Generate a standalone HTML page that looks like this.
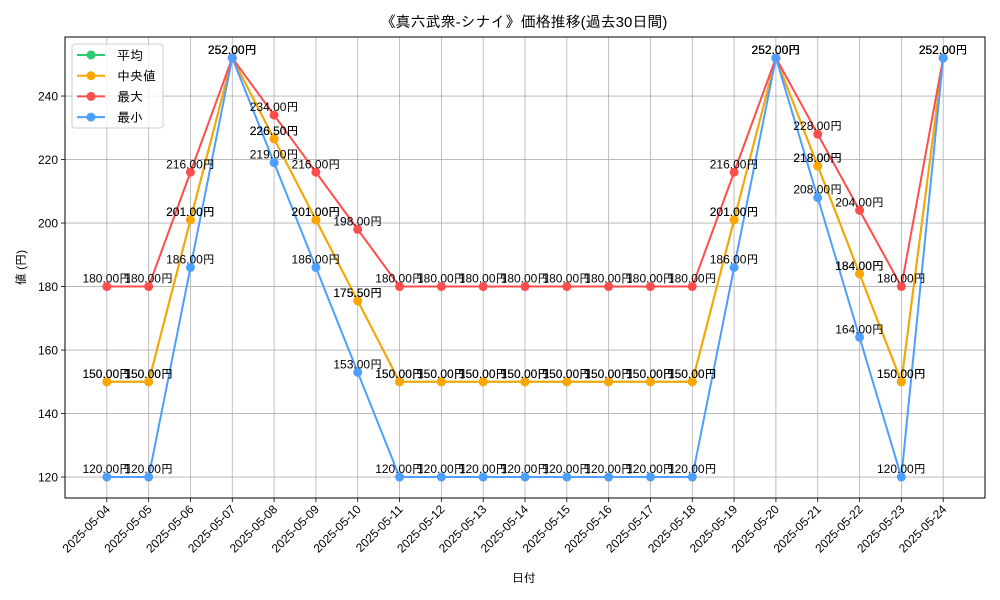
<!DOCTYPE html>
<html><head><meta charset="utf-8"><style>
body{margin:0;background:#fff;}
svg{display:block;font-family:"Liberation Sans","IPAGothic","Noto Sans CJK JP",sans-serif;}
</style></head><body>
<svg id="chart" width="1000" height="600"></svg>
<script>
const dates=["2025-05-04","2025-05-05","2025-05-06","2025-05-07","2025-05-08","2025-05-09","2025-05-10","2025-05-11","2025-05-12","2025-05-13","2025-05-14","2025-05-15","2025-05-16","2025-05-17","2025-05-18","2025-05-19","2025-05-20","2025-05-21","2025-05-22","2025-05-23","2025-05-24"];
const avgVals=[150,150,201,252,226.5,201,175.5,150,150,150,150,150,150,150,150,201,252,218,184,150,252];
const medVals=[150,150,201,252,226.5,201,175.5,150,150,150,150,150,150,150,150,201,252,218,184,150,252];
const maxVals=[180,180,216,252,234,216,198,180,180,180,180,180,180,180,180,216,252,228,204,180,252];
const minVals=[120,120,186,252,219,186,153,120,120,120,120,120,120,120,120,186,252,208,164,120,252];
const yTicks=[120,140,160,180,200,220,240];
const seriesNames=["平均","中央値","最大","最小"];

const svg=document.getElementById('chart');
const NS="http://www.w3.org/2000/svg";
const L=65,R=985,T=37,B=498;
const yMin=113.4,yMax=258.6;
function x(i){const n=dates.length-1;const pad=n*0.05;return L+(i+pad)/(n+2*pad)*(R-L);}
function y(v){return B-(v-yMin)/(yMax-yMin)*(B-T);}
function mk(tag,attrs,parent){const e=document.createElementNS(NS,tag);for(const k in attrs)e.setAttribute(k,attrs[k]);(parent||svg).appendChild(e);return e;}

let t=mk('text',{x:524,y:27,'text-anchor':'middle','font-size':15});
t.textContent="《真六武衆-シナイ》価格推移(過去30日間)";



// grid
dates.forEach((d,i)=>{
 const g=mk('line',{x1:x(i),x2:x(i),y1:T,y2:B,stroke:'#b0b0b0','stroke-width':0.8});
 
 
 mk('line',{x1:x(i),x2:x(i),y1:B,y2:B+4,stroke:'#000','stroke-width':0.8});
 const lb=mk('text',{'font-size':12,'text-anchor':'end',transform:`translate(${x(i)+4},${B+12}) rotate(-45)`});
 lb.textContent=d;
 
 
});
yTicks.forEach(v=>{
 const g=mk('line',{x1:L,x2:R,y1:y(v),y2:y(v),stroke:'#b0b0b0','stroke-width':0.8});
 
 
 mk('line',{x1:L-4,x2:L,y1:y(v),y2:y(v),stroke:'#000','stroke-width':0.8});
 const lb=mk('text',{x:L-7,y:y(v)+4.5,'font-size':12,'text-anchor':'end'});
 lb.textContent=v;
 
 
});

const series=[[avgVals,'#2ecc71'],[medVals,'#ffa500'],[maxVals,'#ff4d4d'],[minVals,'#4d9fff']];
const names=['series-average','series-median','series-max','series-min'];
series.forEach(([vals,c],si)=>{
 const g=mk('g',{});
 
 
 mk('polyline',{points:vals.map((v,i)=>x(i)+','+y(v)).join(' '),fill:'none',stroke:c,'stroke-width':2},g);
 vals.forEach((v,i)=>{
  const p=mk('circle',{cx:x(i),cy:y(v),r:4.5,fill:c},g);
  
  
 });
});
series.forEach(([vals],si)=>{
 vals.forEach((v,i)=>{
  const lb=mk('text',{x:x(i),y:y(v)-4,'font-size':12,'text-anchor':'middle'});
  lb.textContent=v.toFixed(2)+'円';
  
  
 });
});

const fr=mk('rect',{x:L,y:T,width:R-L,height:B-T,fill:'none',stroke:'#000','stroke-width':1});



let xl=mk('text',{x:524,y:582,'font-size':12,'text-anchor':'middle'});
xl.textContent="日付";


let yl=mk('text',{'font-size':12,'text-anchor':'middle',transform:`translate(25,${(T+B)/2}) rotate(-90)`});
yl.textContent="値 (円)";



const lg=mk('g',{});


mk('rect',{x:72,y:44,width:91,height:84,rx:3,fill:'#fff','fill-opacity':0.8,stroke:'#ccc'},lg);
series.forEach(([v,c],si)=>{
 const yy=55+si*20.7;
 const e=mk('g',{},lg);
 
 
 mk('line',{x1:77,x2:105,y1:yy,y2:yy,stroke:c,'stroke-width':2},e);
 mk('circle',{cx:91,cy:yy,r:4.5,fill:c},e);
 const tx=mk('text',{x:117,y:yy+5,'font-size':13},e);
 tx.textContent=seriesNames[si];
});
</script>
</body></html>
